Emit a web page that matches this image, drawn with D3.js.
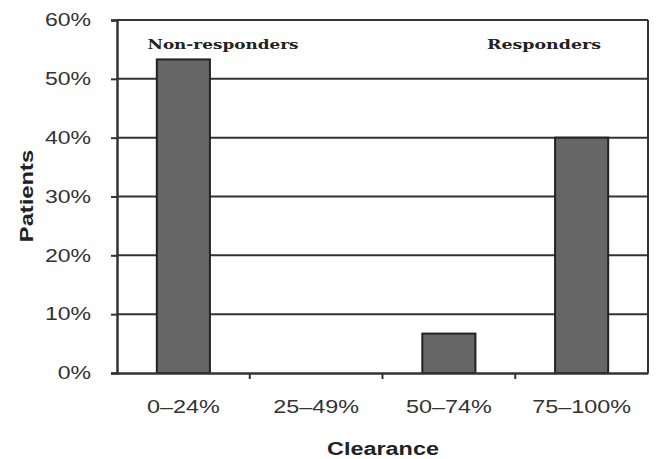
<!DOCTYPE html>
<html>
<head>
<meta charset="utf-8">
<script src="https://cdn.jsdelivr.net/npm/d3@7"></script>
<style>
  body { margin: 0; background: #fff; }
  svg { display: block; }
</style>
</head>
<body>
<svg width="657" height="459"></svg>
<script>
// data
const categories = ['0\u201324%', '25\u201349%', '50\u201374%', '75\u2013100%'];
const patients = [0.533, 0, 0.067, 0.40];
const yTicks = [0, 0.1, 0.2, 0.3, 0.4, 0.5, 0.6];
const groupLabels = ['Non-responders', 'Responders'];

let svg = d3.select('svg');
const plotL = 117, plotR = 648, plotT = 20, plotB = 373;
const sans = 'Arial, Liberation Sans, sans-serif';

// the original type is a bit wider than Arial, so stretch it
function widen(sel, k) {
  sel.each(function() {
    let w = this.getComputedTextLength();
    d3.select(this).attr('textLength', w * k).attr('lengthAdjust', 'spacingAndGlyphs');
  });
}

let x = d3.scaleBand().domain(categories).range([plotL, plotR]).paddingInner(0.6).paddingOuter(0.3);
let xb = d3.scaleBand().domain(categories).range([plotL, plotR]);
let y = d3.scaleLinear().domain([0, 0.6]).range([plotB, plotT]);

// gridlines
svg.append('g').selectAll('line').data(yTicks.slice(1)).enter().append('line')
  .attr('x1', plotL).attr('x2', plotR)
  .attr('y1', d => y(d)).attr('y2', d => y(d))
  .attr('stroke', '#333').attr('stroke-width', 2);

// right border
svg.append('line').attr('x1', plotR).attr('x2', plotR).attr('y1', plotT).attr('y2', plotB)
  .attr('stroke', '#333').attr('stroke-width', 2);

// bars
svg.append('g').selectAll('rect').data(patients).enter().append('rect')
  .attr('x', (d, i) => x(categories[i]))
  .attr('width', x.bandwidth())
  .attr('y', d => y(d))
  .attr('height', d => plotB - y(d))
  .attr('fill', '#666')
  .attr('stroke', '#222').attr('stroke-width', 2)
  .style('display', d => d > 0 ? null : 'none');

// y axis
let yAxis = svg.append('g').attr('transform', `translate(${plotL},0)`)
  .call(d3.axisLeft(y).tickValues(yTicks).tickFormat(d3.format('.0%')).tickSize(6).tickPadding(20));
yAxis.select('.domain').attr('stroke', '#333').attr('stroke-width', 2.5);
yAxis.selectAll('.tick line').attr('stroke', '#333').attr('stroke-width', 2);
yAxis.selectAll('text').attr('font-family', sans)
  .attr('font-size', 18).attr('fill', '#333').call(widen, 1.28);

// x axis
let xAxis = svg.append('g').attr('transform', `translate(0,${plotB})`)
  .call(d3.axisBottom(xb).tickSize(0).tickPadding(27));
xAxis.select('.domain').attr('stroke', '#333').attr('stroke-width', 2.5);
xAxis.selectAll('text').attr('font-family', sans)
  .attr('font-size', 18).attr('fill', '#333').call(widen, 1.3);
// tick marks between categories
xAxis.append('g').selectAll('line').data(categories.slice(1)).enter().append('line')
  .attr('x1', d => xb(d)).attr('x2', d => xb(d))
  .attr('y1', 0).attr('y2', 6)
  .attr('stroke', '#333').attr('stroke-width', 2);

// axis titles
svg.append('text').attr('x', 383).attr('y', 455).attr('text-anchor', 'middle')
  .attr('font-family', sans).attr('font-weight', 'bold')
  .attr('font-size', 18).attr('fill', '#222').text('Clearance').call(widen, 1.3);
svg.append('text').attr('transform', 'translate(33,196) rotate(-90)').attr('text-anchor', 'middle')
  .attr('font-family', sans).attr('font-weight', 'bold')
  .attr('font-size', 19).attr('fill', '#222').text('Patients').call(widen, 1.25);

// group annotations
svg.append('text').attr('x', 223).attr('y', 49).attr('text-anchor', 'middle')
  .attr('font-family', 'DejaVu Serif, serif').attr('font-weight', 'bold')
  .attr('font-size', 13).attr('fill', '#222').text(groupLabels[0])
  .attr('textLength', 151).attr('lengthAdjust', 'spacingAndGlyphs');
svg.append('text').attr('x', 544).attr('y', 49).attr('text-anchor', 'middle')
  .attr('font-family', 'DejaVu Serif, serif').attr('font-weight', 'bold')
  .attr('font-size', 13).attr('fill', '#222').text(groupLabels[1])
  .attr('textLength', 114).attr('lengthAdjust', 'spacingAndGlyphs');
</script>
</body>
</html>
